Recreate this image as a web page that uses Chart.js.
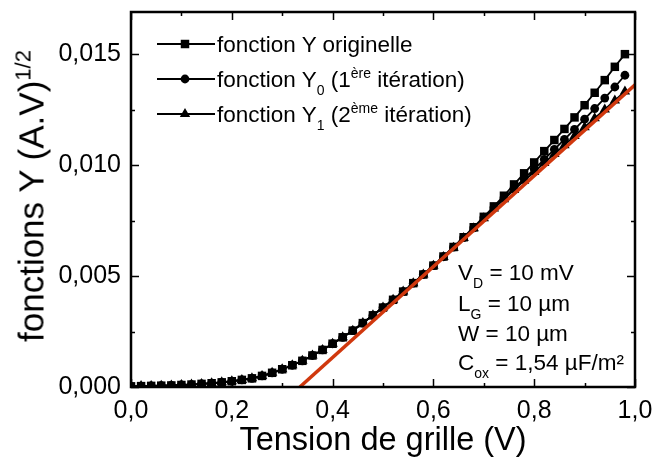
<!DOCTYPE html>
<html>
<head>
<meta charset="utf-8">
<script src="https://cdn.jsdelivr.net/npm/chart.js@4/dist/chart.umd.min.js"></script>
<style>
  body { margin: 0; background: #fff; }
  #wrap { position: relative; width: 654px; height: 461px; font-family: "Liberation Sans", Arial, sans-serif; color: #000; }
  #chart { position: absolute; left: 0; top: 0; }
  .txt { position: absolute; white-space: nowrap; line-height: 22px; font-size: 22.5px; }
  .txt sub { font-size: 14px; vertical-align: -8px; line-height: 0; }
  .txt sup { font-size: 14px; vertical-align: 9px; line-height: 0; }
  #ytitle { position: absolute; left: 31px; top: 196px; font-size: 35px; line-height: 35px; white-space: nowrap;
            transform: translate(-50%, -50%) rotate(-90deg); }
  #ytitle sup { font-size: 22px; vertical-align: 13px; line-height: 0; }
</style>
</head>
<body>
<div id="wrap">
  <canvas id="chart" width="654" height="461"></canvas>
  <div id="ytitle">fonctions Y (A.V)<sup>1/2</sup></div>

  <div class="txt" style="left:217px; top:34px;">fonction Y originelle</div>
  <div class="txt" style="left:217px; top:69px;">fonction Y<sub>0</sub> (1<sup>ère</sup> itération)</div>
  <div class="txt" style="left:217px; top:104px;">fonction Y<sub>1</sub> (2<sup>ème</sup> itération)</div>

  <div class="txt" style="left:458px; top:262px;">V<sub>D</sub> = 10 mV</div>
  <div class="txt" style="left:458px; top:293px;">L<sub>G</sub> = 10 µm</div>
  <div class="txt" style="left:458px; top:323px;">W = 10 µm</div>
  <div class="txt" style="left:458px; top:352px;">C<sub>ox</sub> = 1,54 µF/m²</div>
</div>

<script>
// tension de grille (V)
const vg = [0.00, 0.02, 0.04, 0.06, 0.08, 0.10, 0.12, 0.14, 0.16, 0.18,
            0.20, 0.22, 0.24, 0.26, 0.28, 0.30, 0.32, 0.34, 0.36, 0.38,
            0.40, 0.42, 0.44, 0.46, 0.48, 0.50, 0.52, 0.54, 0.56, 0.58,
            0.60, 0.62, 0.64, 0.66, 0.68, 0.70, 0.72, 0.74, 0.76, 0.78,
            0.80, 0.82, 0.84, 0.86, 0.88, 0.90, 0.92, 0.94, 0.96, 0.98];

// fonction Y originelle
const yOrig = [0.00003, 0.00004, 0.00005, 0.00006, 0.00007, 0.00009, 0.00011, 0.00014, 0.00017, 0.00021,
               0.00026, 0.00032, 0.00039, 0.00050, 0.00064, 0.00080, 0.00098, 0.00118, 0.00142, 0.00167,
               0.00195, 0.00224, 0.00254, 0.00288, 0.00323, 0.00358, 0.00393, 0.00430, 0.00468, 0.00507,
               0.00547, 0.00588, 0.00631, 0.00675, 0.00720, 0.00767, 0.00814, 0.00862, 0.00913, 0.00963,
               0.01012, 0.01063, 0.01113, 0.01163, 0.01215, 0.01270, 0.01326, 0.01383, 0.01443, 0.01500];

// fonction Y0 (1ere iteration)
const yIter1 = [0.00003, 0.00004, 0.00005, 0.00006, 0.00007, 0.00009, 0.00011, 0.00014, 0.00017, 0.00021,
                0.00026, 0.00032, 0.00039, 0.00050, 0.00064, 0.00080, 0.00098, 0.00118, 0.00142, 0.00167,
                0.00195, 0.00224, 0.00254, 0.00288, 0.00323, 0.00358, 0.00393, 0.00430, 0.00468, 0.00507,
                0.00547, 0.00587, 0.00630, 0.00673, 0.00717, 0.00763, 0.00808, 0.00852, 0.00896, 0.00939,
                0.00982, 0.01026, 0.01071, 0.01116, 0.01161, 0.01207, 0.01255, 0.01302, 0.01352, 0.01405];

// fonction Y1 (2eme iteration)
const yIter2 = [0.00003, 0.00004, 0.00005, 0.00006, 0.00007, 0.00009, 0.00011, 0.00014, 0.00017, 0.00021,
                0.00026, 0.00032, 0.00039, 0.00050, 0.00064, 0.00080, 0.00098, 0.00118, 0.00142, 0.00167,
                0.00195, 0.00224, 0.00254, 0.00288, 0.00323, 0.00358, 0.00393, 0.00430, 0.00468, 0.00507,
                0.00546, 0.00586, 0.00628, 0.00671, 0.00715, 0.00760, 0.00804, 0.00846, 0.00888, 0.00929,
                0.00969, 0.01010, 0.01050, 0.01090, 0.01131, 0.01171, 0.01211, 0.01251, 0.01291, 0.01332];

// droite d'extrapolation
const fitX = [0.335, 1.0];
const fitY = [0.0, 0.01362];

const xTickStep = 0.2;
const yTickStep = 0.005;

const FONT = '"Liberation Sans", Arial, sans-serif';

function pts(xs, ys) {
    return xs.map(function(x, i) { return {x: x, y: ys[i]}; });
}

// taille fixe des axes, sans marge auto pour les etiquettes
function fixAxis(s, w, h) {
    if (w) s.width = w;
    if (h) s.height = h;
    s.paddingTop = 0; s.paddingBottom = 0; s.paddingLeft = 0; s.paddingRight = 0;
}

// cadre + graduations vers l'interieur (haut, bas, gauche, droite)
const frame = {
    id: 'frame',
    afterDatasetsDraw(chart) {
        const ctx = chart.ctx;
        const a = chart.chartArea;
        const sx = chart.scales.x, sy = chart.scales.y;
        ctx.save();
        ctx.strokeStyle = '#000';
        ctx.lineWidth = 1.5;
        ctx.beginPath();
        sx.ticks.forEach(function(t, i) {
            const px = Math.round(sx.getPixelForValue(t.value)) + 0.5;
            ctx.moveTo(px, a.bottom); ctx.lineTo(px, a.bottom - 8);
            ctx.moveTo(px, a.top); ctx.lineTo(px, a.top + 8);
            if (i < sx.ticks.length - 1) {
                const pm = Math.round(sx.getPixelForValue((t.value + sx.ticks[i + 1].value) / 2)) + 0.5;
                ctx.moveTo(pm, a.bottom); ctx.lineTo(pm, a.bottom - 4);
                ctx.moveTo(pm, a.top); ctx.lineTo(pm, a.top + 4);
            }
        });
        const yt = sy.ticks.map(function(t) { return t.value; });
        yt.push(yt[yt.length - 1] + yTickStep);
        yt.forEach(function(v) {
            if (v <= sy.max) {
                const py = Math.round(sy.getPixelForValue(v)) + 0.5;
                ctx.moveTo(a.left, py); ctx.lineTo(a.left + 8, py);
                ctx.moveTo(a.right, py); ctx.lineTo(a.right - 8, py);
            }
            const vm = v + yTickStep / 2;
            if (vm <= sy.max) {
                const pm = Math.round(sy.getPixelForValue(vm)) + 0.5;
                ctx.moveTo(a.left, pm); ctx.lineTo(a.left + 4, pm);
                ctx.moveTo(a.right, pm); ctx.lineTo(a.right - 4, pm);
            }
        });
        ctx.stroke();
        ctx.lineWidth = 2.5;
        ctx.strokeRect(a.left, a.top, a.right - a.left, a.bottom - a.top);
        ctx.restore();
    }
};

// echantillons de la legende (trait + symbole)
function marker(ctx, style, x, y, r) {
    ctx.beginPath();
    if (style === 'rect') {
        const s = Math.SQRT1_2 * r;
        ctx.rect(x - s, y - s, 2 * s, 2 * s);
    } else if (style === 'circle') {
        ctx.arc(x, y, r, 0, Math.PI * 2);
    } else {
        const w = r * Math.sqrt(3) / 2;
        ctx.moveTo(x, y - r);
        ctx.lineTo(x + w, y + r / 2);
        ctx.lineTo(x - w, y + r / 2);
        ctx.closePath();
    }
    ctx.fill();
}

const legendRows = [44, 79, 114];
const legendSamples = {
    id: 'legendSamples',
    afterDraw(chart) {
        const ctx = chart.ctx;
        ctx.save();
        ctx.strokeStyle = '#000';
        ctx.fillStyle = '#000';
        ctx.lineWidth = 1.8;
        legendRows.forEach(function(y, i) {
            const ds = chart.data.datasets[3 - i];
            ctx.beginPath();
            ctx.moveTo(157, y); ctx.lineTo(215, y);
            ctx.stroke();
            marker(ctx, ds.pointStyle, 185, y, ds.pointRadius);
        });
        ctx.restore();
    }
};

new Chart(document.getElementById('chart'), {
    type: 'line',
    data: {
        datasets: [
            {
                label: 'droite',
                data: pts(fitX, fitY),
                borderColor: '#d0380e',
                borderWidth: 3.5,
                pointRadius: 0,
                order: 0
            },
            {
                label: 'fonction Y1 (2ème itération)',
                data: pts(vg, yIter2),
                borderColor: '#000',
                backgroundColor: '#000',
                borderWidth: 1.8,
                pointStyle: 'triangle',
                pointRadius: 6,
                pointBorderWidth: 0,
                order: 1
            },
            {
                label: 'fonction Y0 (1ère itération)',
                data: pts(vg, yIter1),
                borderColor: '#000',
                backgroundColor: '#000',
                borderWidth: 1.8,
                pointStyle: 'circle',
                pointRadius: 4.4,
                pointBorderWidth: 0,
                order: 2
            },
            {
                label: 'fonction Y originelle',
                data: pts(vg, yOrig),
                borderColor: '#000',
                backgroundColor: '#000',
                borderWidth: 1.8,
                pointStyle: 'rect',
                pointRadius: 6,
                pointBorderWidth: 0,
                order: 3
            }
        ]
    },
    options: {
        responsive: false,
        animation: false,
        events: [],
        layout: { padding: { top: 12, right: 19, left: 0, bottom: 0 } },
        plugins: { legend: { display: false }, tooltip: { enabled: false } },
        scales: {
            x: {
                type: 'linear',
                bounds: 'data',
                min: 0,
                max: 1.0,
                grid: { display: false, drawTicks: false },
                border: { display: false },
                ticks: {
                    stepSize: xTickStep,
                    padding: 9,
                    color: '#000',
                    font: { family: FONT, size: 25 },
                    callback: function(v) { return v.toFixed(1).replace('.', ','); }
                },
                title: {
                    display: true,
                    text: 'Tension de grille (V)',
                    color: '#000',
                    font: { family: FONT, size: 32.5, lineHeight: 1 },
                    padding: { top: 0, bottom: 4 }
                },
                afterFit: function(s) { fixAxis(s, 0, 74); }
            },
            y: {
                type: 'linear',
                bounds: 'data',
                min: 0,
                max: 0.0169,
                grid: { display: false, drawTicks: false },
                border: { display: false },
                ticks: {
                    stepSize: yTickStep,
                    includeBounds: false,
                    padding: 10,
                    color: '#000',
                    font: { family: FONT, size: 25 },
                    callback: function(v) { return v.toFixed(3).replace('.', ','); }
                },
                afterFit: function(s) { fixAxis(s, 131, 0); }
            }
        }
    },
    plugins: [frame, legendSamples]
});
</script>
</body>
</html>
